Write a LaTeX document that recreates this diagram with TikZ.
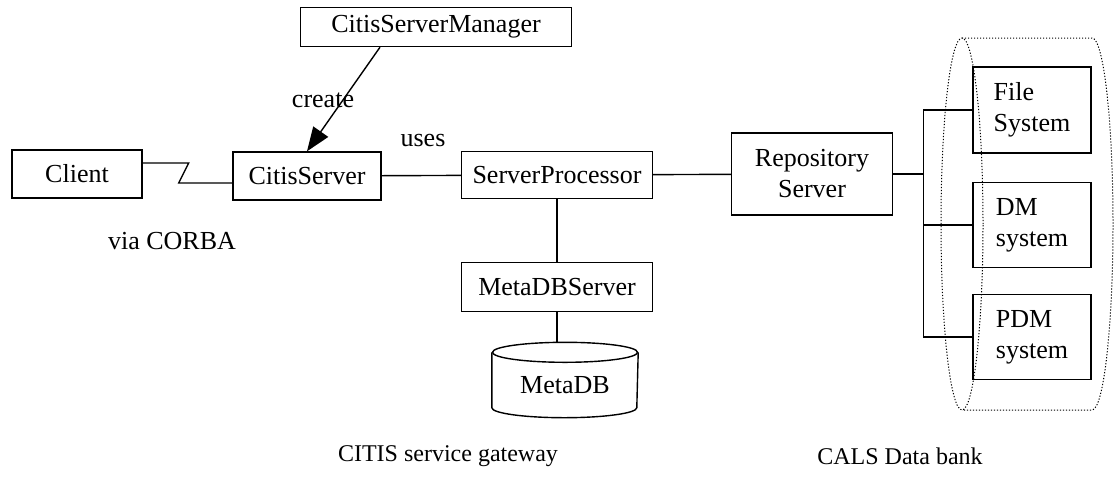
\documentclass[tikz,border=0pt]{standalone}
\usepackage{fontspec}
\setmainfont{Liberation Serif}
\usetikzlibrary{arrows.meta}

\begin{document}
\begin{tikzpicture}[x=1pt, y=-1pt, line width=1.4pt,
  every node/.style={font=\fontsize{26}{31}\selectfont, inner sep=0pt},
  box/.style={draw, rectangle, align=left},
  caption/.style={font=\fontsize{24}{28}\selectfont}]

\useasboundingbox (0,0) rectangle (1116,483);

% gateway components
\node[box, minimum width=271pt, minimum height=39pt] (mgr) at (436,27) {CitisServerManager};
\node[box, minimum width=130pt, minimum height=48pt] (client) at (77,174) {Client};
\node[box, minimum width=148pt, minimum height=48pt] (citis) at (307,176) {CitisServer};
\node[box, minimum width=191pt, minimum height=47pt] (proc) at (557,175) {ServerProcessor};
\node[box, minimum width=191pt, minimum height=49pt] (metasrv) at (557,287) {MetaDBServer};
\node[minimum width=145pt, minimum height=64pt] (metadb) at (565,385) {MetaDB};

% database drum
\draw (metadb.north) ellipse [x radius=72.5pt, y radius=10pt];
\draw (metadb.north west) -- ([yshift=10pt]metadb.south west)
  arc [start angle=180, end angle=360, x radius=72.5pt, y radius=10pt]
  -- (metadb.north east);

% data bank side
\node[box, align=center, minimum width=161pt, minimum height=82pt] (repo) at (812,174) {Repository\\Server};
\node[box, minimum width=118pt, minimum height=86pt] (fs) at (1032,110) {File\\System};
\node[box, minimum width=118pt, minimum height=85pt] (dm) at (1032,225) {DM\\system};
\node[box, minimum width=118pt, minimum height=85pt] (pdm) at (1032,337) {PDM\\system};

% connections
\draw ([yshift=11pt]client.east) -- ++(46,0) -- ++(-10,20) -- ([yshift=-7pt]citis.west);
\draw (citis) -- (proc);
\node (uses) at (423,140) {uses};
\draw[-{Triangle[length=24pt, width=18pt]}] ([xshift=-56pt]mgr.south) -- (citis.north);
\node (create) at (323,100) {create};
\draw (proc) -- (metasrv);
\draw (metasrv.south) -- ([yshift=10pt]metadb.north -| metasrv.south);
\draw (proc) -- (repo);

% bus to the data bank
\draw (fs.west) -- ++(-49,0) coordinate (bus) -- (bus |- pdm.west) -- (pdm.west);
\draw (dm.west) -- (dm.west -| bus);
\draw (repo.east) -- (repo.east -| bus);

% data bank outline
\draw[line width=1pt, dash pattern=on 1.2pt off 1.8pt] (962,224) ellipse [x radius=21pt, y radius=186pt];
\draw[line width=1pt, dash pattern=on 1.2pt off 1.8pt] (962,38) -- (1092,38)
  arc [start angle=90, end angle=-90, x radius=21pt, y radius=186pt] -- (962,410);

\node (corba) at (172,241) {via CORBA};
\node[caption] (gw) at (448,456) {CITIS service gateway};
\node[caption] (bank) at (900,456) {CALS Data bank};
\end{tikzpicture}
\end{document}
